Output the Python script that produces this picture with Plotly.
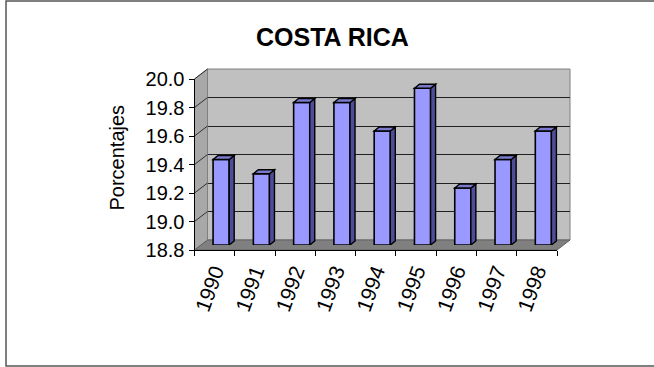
import plotly.graph_objects as go

# ---------------- data ----------------
years = ["1990", "1991", "1992", "1993", "1994", "1995", "1996", "1997", "1998"]
values = [19.4, 19.3, 19.8, 19.8, 19.6, 19.9, 19.2, 19.4, 19.6]
y_ticks = [18.8, 19.0, 19.2, 19.4, 19.6, 19.8, 20.0]
y_tick_text = ["18.8", "19.0", "19.2", "19.4", "19.6", "19.8", "20.0"]
title_text = "COSTA RICA"
y_title = "Porcentajes"

# ---------------- geometry (pixels) ----------------
W, H = 654, 367
FX0, FX1, FYT, FYB = 194.5, 557.0, 79.0, 250.0   # front plane
DX, DY = 13.0, 10.0                               # wall depth
MX, MY = 6.5, 5.0                                 # bar plane offset
BDX, BDY = 5.0, 4.0                               # bar depth
Y_MIN, Y_MAX = y_ticks[0], y_ticks[-1]
N = len(years)
FONT = "Liberation Sans, Arial, sans-serif"


def px(x):
    return x / W


def py(y):
    return 1 - y / H


def yf(v):
    return FYB - (v - Y_MIN) / (Y_MAX - Y_MIN) * (FYB - FYT)


ppu = (FYB - FYT) / (Y_MAX - Y_MIN)
cat_w = (FX1 - FX0) / N
bar_w = 0.4
fw = bar_w * cat_w

fig = go.Figure()

fig.add_trace(go.Bar(
    x=list(range(N)), y=[v - Y_MIN for v in values], base=[Y_MIN] * N,
    width=bar_w, xaxis="x3", yaxis="y3",
    marker=dict(color="#9999ff", line=dict(color="black", width=1.6)),
    hoverinfo="skip", showlegend=False,
))
# dummy traces so the front and back axes exist
fig.add_trace(go.Scatter(x=years, y=[None] * N, xaxis="x", yaxis="y",
                         mode="markers", showlegend=False, hoverinfo="skip"))
fig.add_trace(go.Scatter(x=[0], y=[None], xaxis="x2", yaxis="y2",
                         mode="markers", showlegend=False, hoverinfo="skip"))

shapes = []
# outer border
shapes.append(dict(type="rect", xref="paper", yref="paper",
                   x0=px(6), x1=px(W + 10), y0=py(366), y1=py(1),
                   line=dict(color="#555555", width=1.5), fillcolor="rgba(0,0,0,0)",
                   layer="below"))
# back wall
shapes.append(dict(type="rect", xref="paper", yref="paper",
                   x0=px(FX0 + DX), x1=px(FX1 + DX), y0=py(FYB - DY), y1=py(FYT - DY),
                   fillcolor="#c0c0c0", line=dict(color="#808080", width=1), layer="below"))
# left wall
shapes.append(dict(type="path", xref="paper", yref="paper",
                   path=(f"M{px(FX0)},{py(FYT)} L{px(FX0 + DX)},{py(FYT - DY)} "
                         f"L{px(FX0 + DX)},{py(FYB - DY)} L{px(FX0)},{py(FYB)} Z"),
                   fillcolor="#a8a8a8", line=dict(color="#808080", width=1), layer="below"))
# floor
shapes.append(dict(type="path", xref="paper", yref="paper",
                   path=(f"M{px(FX0)},{py(FYB)} L{px(FX0 + DX)},{py(FYB - DY)} "
                         f"L{px(FX1 + DX)},{py(FYB - DY)} L{px(FX1)},{py(FYB)} Z"),
                   fillcolor="#808080", line=dict(color="#606060", width=1), layer="below"))
# left wall diagonal grid lines
for v in y_ticks[1:]:
    shapes.append(dict(type="line", xref="paper", yref="paper",
                       x0=px(FX0), y0=py(yf(v)), x1=px(FX0 + DX), y1=py(yf(v) - DY),
                       line=dict(color="#303030", width=1), layer="below"))

# bar side and top faces
for i, v in enumerate(values):
    h = (v - Y_MIN) * ppu
    shapes.append(dict(type="path", xref="x3", yref="y3",
                       xsizemode="pixel", ysizemode="pixel",
                       xanchor=i + bar_w / 2, yanchor=v,
                       path=f"M0,0 L{BDX},{BDY} L{BDX},{BDY - h} L0,{-h} Z",
                       fillcolor="#4d4d99", line=dict(color="black", width=1.4),
                       layer="above"))
    shapes.append(dict(type="path", xref="x3", yref="y3",
                       xsizemode="pixel", ysizemode="pixel",
                       xanchor=i - bar_w / 2, yanchor=v,
                       path=f"M0,0 L{BDX},{BDY} L{fw + BDX},{BDY} L{fw},0 Z",
                       fillcolor="#7a7acc", line=dict(color="black", width=1.4),
                       layer="above"))

annotations = [
    dict(text=f"<b>{title_text}</b>", x=px(332), y=py(37), xref="paper", yref="paper",
         showarrow=False, xanchor="center", yanchor="middle",
         font=dict(family=FONT, size=25, color="black")),
    dict(text=y_title, x=px(116.5), y=py(158), xref="paper", yref="paper",
         showarrow=False, xanchor="center", yanchor="middle", textangle=-90,
         font=dict(family=FONT, size=20, color="black")),
]

fig.update_layout(
    width=W, height=H, autosize=False,
    margin=dict(l=0, r=0, t=0, b=0, pad=0),
    paper_bgcolor="white", plot_bgcolor="rgba(0,0,0,0)",
    template="none", showlegend=False,
    font=dict(family=FONT, size=20, color="black"),
    shapes=shapes, annotations=annotations,
    xaxis=dict(domain=[px(FX0), px(FX1)], anchor="y", type="category",
               categoryorder="array", categoryarray=years, range=[-0.5, N - 0.5],
               tickson="boundaries", ticks="outside", ticklen=5, tickcolor="black",
               showline=True, linecolor="black", linewidth=1, showgrid=False,
               zeroline=False, tickangle=-70, tickfont=dict(size=21),
               automargin=False, fixedrange=True),
    yaxis=dict(domain=[py(FYB), py(FYT)], anchor="x", range=[Y_MIN, Y_MAX],
               tickmode="array", tickvals=y_ticks, ticktext=y_tick_text,
               ticks="outside", ticklen=5, tickcolor="black",
               showline=True, linecolor="black", linewidth=1, showgrid=False,
               zeroline=False, tickfont=dict(size=20), automargin=False, fixedrange=True),
    xaxis2=dict(domain=[px(FX0 + DX), px(FX1 + DX)], anchor="y2", range=[-0.5, N - 0.5],
                showgrid=False, showline=False, showticklabels=False, ticks="",
                zeroline=False, automargin=False, fixedrange=True),
    yaxis2=dict(domain=[py(FYB - DY), py(FYT - DY)], anchor="x2", range=[Y_MIN, Y_MAX],
                tickmode="array", tickvals=y_ticks, showgrid=True, gridcolor="#202020",
                gridwidth=1, showline=False, showticklabels=False, ticks="",
                zeroline=False, automargin=False, fixedrange=True),
    xaxis3=dict(domain=[px(FX0 + MX), px(FX1 + MX)], anchor="y3", range=[-0.5, N - 0.5],
                visible=False, fixedrange=True),
    yaxis3=dict(domain=[py(FYB - MY), py(FYT - MY)], anchor="x3", range=[Y_MIN, Y_MAX],
                visible=False, fixedrange=True),
)

fig.write_html("out.html", config={"displayModeBar": False, "staticPlot": True})
